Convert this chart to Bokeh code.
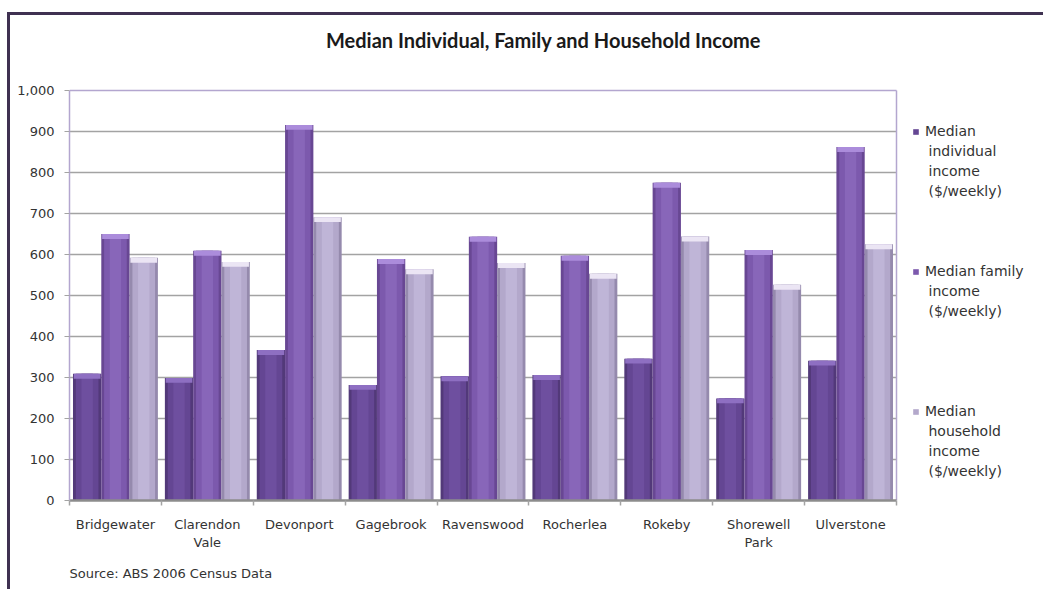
import numpy as np
from bokeh.plotting import figure
from bokeh.models import (Range1d, FixedTicker, NumeralTickFormatter, Legend,
                          LegendItem, ColumnDataSource, Title, Label)
from bokeh.embed import file_html
from bokeh.resources import INLINE

# ---------------- data ----------------
categories = ["Bridgewater", "Clarendon\nVale", "Devonport", "Gagebrook",
              "Ravenswood", "Rocherlea", "Rokeby", "Shorewell\nPark", "Ulverstone"]
individual = [309, 299, 367, 282, 303, 306, 346, 249, 341]
family = [650, 609, 916, 589, 643, 597, 775, 611, 862]
household = [592, 582, 691, 564, 579, 553, 644, 526, 625]
legend_lines = [["Median", "individual", "income", "($/weekly)"],
                ["Median family", "income", "($/weekly)"],
                ["Median", "household", "income", "($/weekly)"]]
y_ticks = [0, 100, 200, 300, 400, 500, 600, 700, 800, 900, 1000]
title_text = "Median Individual, Family and Household Income"
source_text = "Source: ABS 2006 Census Data"

# ---------------- styles / layout ----------------
W, H = 1036, 577
OX, OY = 10, 15            # page position of the canvas (margin + border)
FONT = "DejaVu Sans"
frame_col = "#3f3151"
lav = "#b3a6cf"
grid_col = "#a3a3a3"
styles = [
    dict(edge="#523979", body="#644693", hi="#6e4f9f", top="#8e6fc2"),
    dict(edge="#684793", body="#7c59ad", hi="#8866b9", top="#ab8cdb"),
    dict(edge="#958aad", body="#b3a8cb", hi="#bfb5d7", top="#ebe5f4"),
]
n = len(categories)
plot_left, plot_right = 69, 896          # page px of the category area
plot_top, plot_bottom = 90, 500          # page px of 1000 and 0
x_end = n * (OX + W - plot_left) / (plot_right - plot_left)
y_top = y_ticks[-1] * (plot_bottom - OY) / (plot_bottom - plot_top)

p = figure(width=W, height=H, output_backend="svg", toolbar_location=None,
           title=None,
           x_range=Range1d(0, x_end), y_range=Range1d(0, y_top),
           min_border_left=plot_left - OX, min_border_right=0,
           min_border_top=0, min_border_bottom=OY + H - plot_bottom,
           background_fill_color="white", border_fill_color="white")
p.styles = {"margin-left": "7px", "margin-top": "12px",
            "border-left": f"3px solid {frame_col}",
            "border-top": f"3px solid {frame_col}"}
p.outline_line_color = None
p.xgrid.visible = False
p.ygrid.visible = False

# grid lines limited to the category area
gy = y_ticks[1:-1]
p.segment(x0=[0] * len(gy), x1=[n] * len(gy), y0=gy, y1=gy,
          line_color=grid_col, line_width=1.5, level="underlay")
# plot-area border (top and right)
p.segment(x0=[0, n], x1=[n, n], y0=[y_ticks[-1], 0], y1=[y_ticks[-1], y_ticks[-1]],
          line_color=lav, line_width=1.5, level="underlay")

centers = np.arange(n) + 0.5
bw = 0.308
offsets = [-bw, 0.0, bw]
legend_renderers = []
for vals, off, st in zip([individual, family, household], offsets, styles):
    vals = np.array(vals, dtype=float)
    src = ColumnDataSource(dict(x=centers + off, top=vals, bev=vals - 12))
    p.vbar(x="x", top="top", bottom=0, width=bw, fill_color=st["edge"],
           line_color=None, source=src)
    r = p.vbar(x="x", top="top", bottom=0, width=bw * 0.8, fill_color=st["body"],
               line_color=None, source=src)
    p.vbar(x="x", top="top", bottom=0, width=bw * 0.4, fill_color=st["hi"],
           line_color=None, source=src)
    p.vbar(x="x", top="top", bottom="bev", width=bw * 0.94, fill_color=st["top"],
           line_color=None, source=src)
    legend_renderers.append(r)

# y axis
p.yaxis.bounds = (0, y_ticks[-1])
p.yaxis.ticker = FixedTicker(ticks=y_ticks)
p.yaxis.formatter = NumeralTickFormatter(format="0,0")
p.yaxis.axis_line_color = lav
p.yaxis.axis_line_width = 1.5
p.yaxis.major_tick_line_color = grid_col
p.yaxis.major_tick_out = 5
p.yaxis.major_tick_in = 0
p.yaxis.minor_tick_line_color = None
p.yaxis.major_label_text_font = FONT
p.yaxis.major_label_text_font_size = "13px"
p.yaxis.major_label_text_color = "#333333"
p.yaxis.major_label_standoff = 10

# x axis
p.xaxis.bounds = (0, n)
p.xaxis.ticker = FixedTicker(ticks=list(centers), minor_ticks=list(range(n + 1)))
p.xaxis.major_label_overrides = {float(c): lab for c, lab in zip(centers, categories)}
p.xaxis.axis_line_color = "#8c8c8c"
p.xaxis.axis_line_width = 2.5
p.xaxis.major_tick_out = 0
p.xaxis.major_tick_in = 0
p.xaxis.minor_tick_out = 5
p.xaxis.minor_tick_in = 0
p.xaxis.minor_tick_line_color = grid_col
p.xaxis.minor_tick_line_width = 1.5
p.xaxis.major_label_text_font = FONT
p.xaxis.major_label_text_font_size = "13px"
p.xaxis.major_label_text_color = "#333333"
p.xaxis.major_label_standoff = 11

# chart title (inside the extended frame area above the bars)
p.add_layout(Label(x=540 - OX, y=36 - OY, x_units="canvas", y_units="canvas",
                   text=title_text, text_font="Lato", text_font_style="bold",
                   text_font_size="20px", text_color="#1a1a1a",
                   text_align="center", text_baseline="middle"))

# source note
p.add_layout(Title(text=source_text, align="left", offset=0, standoff=22,
                   text_font=FONT, text_font_size="13px", text_font_style="normal",
                   text_color="#333333"), "below")

# legend: squares + first line via Legend, further lines via labels
item_centers = [131, 271, 411]       # page y of each item's first line
line_h = 19.7
legend = Legend(items=[LegendItem(label=lines[0], renderers=[r])
                       for lines, r in zip(legend_lines, legend_renderers)],
                location=(912 - plot_left, plot_bottom - (item_centers[0] - 10) - 300),
                orientation="vertical", glyph_width=7, glyph_height=7,
                label_standoff=6, label_height=20, spacing=120, padding=0, margin=0,
                border_line_color=None, background_fill_alpha=0,
                label_text_font=FONT, label_text_font_size="14px",
                label_text_color="#333333")
p.add_layout(legend)
for lines, yc in zip(legend_lines, item_centers):
    for k, t in enumerate(lines[1:], start=1):
        p.add_layout(Label(x=925 - OX, y=yc + k * line_h - OY - 3, x_units="canvas",
                           y_units="canvas", text=t, text_font=FONT,
                           text_font_size="14px", text_color="#333333",
                           text_align="left", text_baseline="middle"))

open("out.html", "w").write(file_html(p, INLINE))
